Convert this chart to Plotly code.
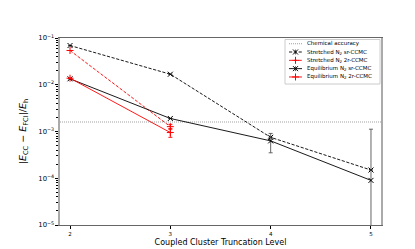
import plotly.graph_objects as go

# ---------------- data ----------------
levels = [2, 3, 4, 5]
levels_2r = [2, 3]

stretched_sr = [0.069, 0.0168, 7.5e-4, 1.5e-4]
stretched_sr_err = [0.0, 0.0, 0.0, 0.0]

equil_sr = [0.0134, 1.9e-3, 6.3e-4, 9.0e-5]
equil_sr_err = [0.0, 0.0, 2.8e-4, 1.03e-3]

stretched_2r = [0.054, 1.27e-3]
stretched_2r_err = [0.0, 1.5e-4]

equil_2r = [0.0138, 9.5e-4]
equil_2r_err = [0.0, 2.0e-4]

chem_acc = 1.6e-3

legend_labels = [
    "Chemical accuracy",
    "Stretched N<sub>2</sub> sr-CCMC",
    "Stretched N<sub>2</sub> 2r-CCMC",
    "Equilibrium N<sub>2</sub> sr-CCMC",
    "Equilibrium N<sub>2</sub> 2r-CCMC",
]

# ---------------- styles ----------------
FONT = "DejaVu Sans"
DASH = "3.2px,1.6px"
LW = 0.9
series_styles = [
    dict(color="black", dash=DASH, symbol="x-thin", ecolor="#555555"),
    dict(color="red", dash=DASH, symbol="cross-thin", ecolor="red"),
    dict(color="black", dash="solid", symbol="x-thin", ecolor="#555555"),
    dict(color="red", dash="solid", symbol="cross-thin", ecolor="red"),
]
series_data = [
    (levels, stretched_sr, stretched_sr_err),
    (levels_2r, stretched_2r, stretched_2r_err),
    (levels, equil_sr, equil_sr_err),
    (levels_2r, equil_2r, equil_2r_err),
]

fig = go.Figure()

for (xs, ys, es), st in zip(series_data, series_styles):
    fig.add_trace(go.Scatter(
        x=xs, y=ys, mode="lines+markers",
        line=dict(color=st["color"], width=LW, dash=st["dash"]),
        marker=dict(symbol=st["symbol"], size=5,
                    line=dict(color=st["color"], width=1.0), color=st["color"]),
        error_y=dict(type="data", array=es, visible=True, color=st["ecolor"],
                     thickness=0.9, width=2),
        showlegend=False, cliponaxis=False,
    ))

CHEM_STYLE = dict(color="#a0a0a0", width=1.1, dash="1px,1px")
# chemical accuracy line
fig.add_shape(type="line", xref="paper", x0=0, x1=1, yref="y", y0=chem_acc, y1=chem_acc,
              line=CHEM_STYLE, layer="below")

# ---------------- manual legend (pixel coords within the plot area) ----------------
PX_L, PX_R, PX_T, PX_B = 52, 373, 30, 221
box = dict(x0=277, x1=372, y0=31.5, y1=77)
fig.add_shape(type="rect", xref="x2", yref="y2", x0=box["x0"], x1=box["x1"],
              y0=box["y0"], y1=box["y1"], line=dict(color="#cccccc", width=1),
              fillcolor="white", layer="below")
row_y = [35.8, 44.3, 52.8, 61.3, 69.8]
line_x0, line_x1, mark_x, text_x = 281, 294, 287.5, 297
# chemical accuracy sample
fig.add_shape(type="line", xref="x2", yref="y2", x0=line_x0, x1=line_x1,
              y0=row_y[0], y1=row_y[0], line=CHEM_STYLE)
for i, st in enumerate(series_styles):
    yy = row_y[i + 1]
    fig.add_trace(go.Scatter(
        x=[line_x0, line_x1], y=[yy, yy], xaxis="x2", yaxis="y2", mode="lines",
        line=dict(color=st["color"], width=LW, dash=st["dash"]),
        showlegend=False, hoverinfo="skip"))
    fig.add_trace(go.Scatter(
        x=[mark_x], y=[yy], xaxis="x2", yaxis="y2", mode="markers",
        marker=dict(symbol=st["symbol"], size=5, color=st["color"],
                    line=dict(color=st["color"], width=1.0)),
        error_y=dict(type="constant", value=2.5, color=st["ecolor"], thickness=0.9, width=0),
        showlegend=False, hoverinfo="skip"))
for i, lab in enumerate(legend_labels):
    fig.add_annotation(x=text_x, y=row_y[i], xref="x2", yref="y2", text=lab,
                       showarrow=False, xanchor="left", yanchor="middle",
                       font=dict(family=FONT, size=5.5, color="black"))

fig.update_layout(
    width=415, height=249,
    margin=dict(l=PX_L, r=415 - PX_R, t=PX_T, b=249 - PX_B),
    paper_bgcolor="white", plot_bgcolor="white",
    font=dict(family=FONT, color="black"),
    showlegend=False,
    xaxis=dict(
        range=[1.9, 5.1], tickvals=levels, ticktext=[str(v) for v in levels],
        ticks="outside", ticklen=3, tickwidth=0.8, tickcolor="black",
        tickfont=dict(size=5.5, family=FONT),
        showgrid=False, zeroline=False, showline=True, linecolor="#666666",
        linewidth=1, mirror=True,
        title=dict(text="Coupled Cluster Truncation Level",
                   font=dict(size=8, family=FONT), standoff=3),
    ),
    yaxis=dict(
        type="log", range=[-5, -1], dtick=1, exponentformat="power",
        ticks="outside", ticklen=3, tickwidth=0.8, tickcolor="black",
        tickfont=dict(size=5.5, family=FONT),
        minor=dict(ticks="outside", ticklen=1.8, tickwidth=0.7, tickcolor="black",
                   dtick="D1", showgrid=False),
        showgrid=False, zeroline=False, showline=True, linecolor="#aaaaaa",
        linewidth=1.5, mirror=True,
        title=dict(text="|<i>E</i><sub>CC</sub> − <i>E</i><sub>FCI</sub>|/<i>E</i><sub>h</sub>",
                   font=dict(size=9.5, family=FONT), standoff=10),
    ),
    xaxis2=dict(range=[PX_L, PX_R], overlaying="x", visible=False, fixedrange=True),
    yaxis2=dict(range=[PX_B, PX_T], overlaying="y", visible=False, fixedrange=True),
)

fig.write_html("out.html")
